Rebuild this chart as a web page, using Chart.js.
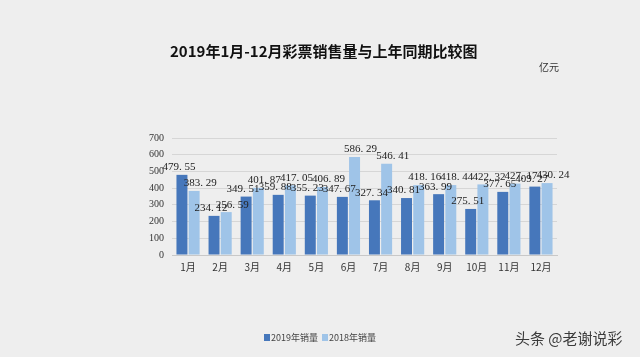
<!DOCTYPE html>
<html><head><meta charset="utf-8">
<script src="https://cdn.jsdelivr.net/npm/chart.js@4/dist/chart.umd.min.js"></script>
<style>html,body{margin:0;padding:0;background:#eeeeee}#w{width:640px;height:357px}</style>
</head><body><div id="w"><canvas id="c" width="640" height="357"></canvas></div>
<script>
const categories = ['1月','2月','3月','4月','5月','6月','7月','8月','9月','10月','11月','12月'];
const sales2019 = [479.55,234.12,349.51,359.88,355.23,347.67,327.34,340.81,363.99,275.51,377.65,409.27];
const sales2018 = [383.29,256.59,401.87,417.05,406.89,586.29,546.41,418.16,418.44,422.32,427.17,430.24];
const seriesNames = ['2019年销量','2018年销量'];
const yTicks = [0,100,200,300,400,500,600,700];
const titleText = '2019年1月-12月彩票销售量与上年同期比较图';
const unitText = '亿元';
const watermark = '头条 @老谢说彩';

const C19 = '#4677bb', C18 = '#9fc4e8';

const deco = {
  id:'deco',
  beforeDraw(chart){
    const ctx = chart.ctx;
    ctx.save(); ctx.fillStyle='#eeeeee'; ctx.fillRect(0,0,chart.width,chart.height); ctx.restore();
  },
  afterDatasetsDraw(chart){
    const ctx = chart.ctx;
    ctx.save();
    ctx.font = '11px "Liberation Serif", serif';
    ctx.fillStyle = '#222';
    ctx.textAlign = 'center'; ctx.textBaseline = 'bottom';
    const fmt = v => v.toFixed(2).replace('.', '. ');
    chart.data.datasets.forEach((ds, di) => {
      const meta = chart.getDatasetMeta(di);
      meta.data.forEach((bar, i) => {
        const dx = di === 0 ? -3 : 6;
        ctx.fillText(fmt(ds.data[i]), bar.x + dx, bar.y - 2);
      });
    });
    // title
    ctx.font = 'bold 15px "Noto Sans CJK SC", sans-serif';
    ctx.fillStyle = '#111';
    ctx.textAlign = 'left'; ctx.textBaseline = 'middle';
    ctx.fillText(titleText, 170, 51);
    ctx.font = '10px "Noto Sans CJK SC", sans-serif';
    ctx.fillStyle = '#333';
    ctx.fillText(unitText, 539, 67);
    // legend
    ctx.font = '9px "Noto Sans CJK SC", sans-serif';
    ctx.fillStyle = C19; ctx.fillRect(264, 334, 6, 7);
    ctx.fillStyle = '#444'; ctx.fillText(seriesNames[0], 271, 338);
    ctx.fillStyle = C18; ctx.fillRect(322, 334, 6, 7);
    ctx.fillStyle = '#444'; ctx.fillText(seriesNames[1], 329, 338);
    // watermark
    ctx.font = '15px "Noto Sans CJK SC", sans-serif';
    ctx.fillStyle = '#3a3a3a';
    ctx.fillText(watermark, 515, 338);
    ctx.restore();
  }
};

new Chart(document.getElementById('c'), {
  type:'bar',
  data:{
    labels: categories,
    datasets:[
      {label:seriesNames[0], data:sales2019, backgroundColor:C19, categoryPercentage:0.76, barPercentage:0.9},
      {label:seriesNames[1], data:sales2018, backgroundColor:C18, categoryPercentage:0.76, barPercentage:0.9}
    ]
  },
  options:{
    responsive:false, animation:false, devicePixelRatio:1,
    layout:{padding:{left:140, right:83, top:138, bottom:80}},
    plugins:{legend:{display:false}, tooltip:{enabled:false}, title:{display:false}},
    scales:{
      x:{
        grid:{display:false, drawTicks:false},
        border:{display:true, color:'#c8c8c8'},
        ticks:{color:'#333', font:{size:10, family:'"Noto Sans CJK SC", sans-serif'}, padding:6},
        afterFit(s){ s.height = 22; }
      },
      y:{
        min:0, max:700,
        afterBuildTicks(s){ s.ticks = yTicks.map(v=>({value:v})); },
        grid:{color:'#d6d6d6', drawTicks:false},
        border:{display:false},
        ticks:{color:'#333', font:{size:10, family:'"Liberation Serif", serif'}, padding:8},
        afterFit(s){ s.width = 32; }
      }
    }
  },
  plugins:[deco]
});
</script>
</body></html>
